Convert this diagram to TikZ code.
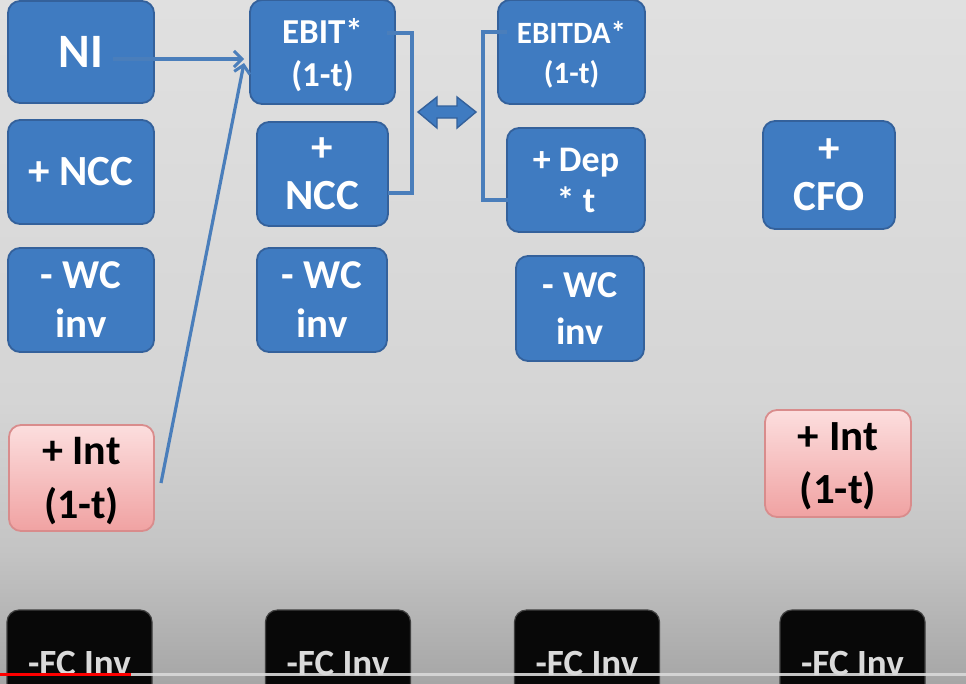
\documentclass[tikz,border=0pt]{standalone}
\usepackage{fontspec}
\setmainfont{Carlito}
\usetikzlibrary{arrows.meta}
\definecolor{boxblue}{HTML}{3F7BC1}
\definecolor{boxborder}{HTML}{34619B}
\definecolor{linkblue}{HTML}{4A7EBB}
\definecolor{pinktop}{HTML}{FCDEDE}
\definecolor{pinkbot}{HTML}{F0A2A2}
\definecolor{pinkborder}{HTML}{D98C8C}
\definecolor{fctext}{HTML}{DADADA}
\definecolor{bgtop}{HTML}{E0E0E0}
\definecolor{bgmid}{HTML}{D5D5D5}
\definecolor{bgmidb}{HTML}{C4C4C4}
\definecolor{bgbot}{HTML}{A6A6A6}
\pgfdeclareverticalshading{bgshade}{100bp}{color(0bp)=(bgbot); color(25bp)=(bgbot); color(34.7bp)=(bgmidb); color(45.7bp)=(bgmid); color(75bp)=(bgtop); color(100bp)=(bgtop)}
\newcommand{\myfs}[2]{\fontsize{#1pt}{#2pt}\selectfont}
\tikzset{
  bbox/.style={draw=boxborder, line width=1.8pt, fill=boxblue, rounded corners=12pt,
    text=white, align=center, inner sep=0pt},
  pbox/.style={draw=pinkborder, line width=1.8pt, top color=pinktop, bottom color=pinkbot,
    rounded corners=12pt, text=black, align=center, inner sep=0pt},
  fcbox/.style={draw=black!75, line width=1.2pt, fill=black!97, rounded corners=12pt,
    text=fctext, inner sep=0pt, minimum width=145pt, minimum height=107pt,
    font=\bfseries\myfs{37}{40}},
  link/.style={draw=linkblue, line width=3.2pt},
  linkarrow/.style={link, -{Straight Barb[length=8pt,width=16pt,line width=3pt]}},
  dblarrow/.style={fill=boxblue, draw=boxborder, line width=1.4pt, line join=miter},
}
\begin{document}
\begin{tikzpicture}[x=1pt,y=-1pt]
\useasboundingbox (0,0) rectangle (966,683);
\shade[shading=bgshade] (0,0) rectangle (966,683);

% column 1
\node[bbox, minimum width=146pt, minimum height=102pt, font=\bfseries\myfs{48}{56}] (NI) at (81,52) {NI};
\node[bbox, minimum width=146pt, minimum height=104pt, font=\bfseries\myfs{43}{50}] (NCCa) at (81,172) {+ NCC};
\node[bbox, minimum width=146pt, minimum height=104pt, font=\bfseries\myfs{41}{49}] (WCa) at (81,300) {- WC\\inv};
\node[pbox, minimum width=145pt, minimum height=106pt, font=\bfseries\myfs{42}{54}, text depth=0pt] (INTa) at (81.5,478) {+ Int\\(1-t)};
\node[fcbox] (FCa) at (79.5,663.5) {-FC Inv};

% column 2
\node[bbox, minimum width=145pt, minimum height=104pt, font=\bfseries\myfs{35}{43}, text depth=0pt] (EBIT) at (322.5,52) {EBIT*\\(1-t)};
\node[bbox, minimum width=131pt, minimum height=104pt, font=\bfseries\myfs{43}{48}] (NCCb) at (322.5,174) {+\\NCC};
\node[bbox, minimum width=130pt, minimum height=104pt, font=\bfseries\myfs{41}{49}] (WCb) at (322,300) {- WC\\inv};
\node[fcbox] (FCb) at (338,663.5) {-FC Inv};

% column 3
\node[bbox, minimum width=147pt, minimum height=104pt, font=\bfseries\myfs{31}{40}, text depth=0pt] (EBITDA) at (571.5,52) {EBITDA*\\(1-t)};
\node[bbox, minimum width=138pt, minimum height=104pt, font=\bfseries\myfs{36}{41}] (DEP) at (576,180) {+ Dep\\* t};
\node[bbox, minimum width=128pt, minimum height=105pt, font=\bfseries\myfs{38}{47}] (WCc) at (580,308.5) {- WC\\inv};
\node[fcbox] (FCc) at (587,663.5) {-FC Inv};

% column 4
\node[bbox, minimum width=132pt, minimum height=108pt, font=\bfseries\myfs{43}{48}] (CFO) at (829,175) {+\\CFO};
\node[pbox, minimum width=146pt, minimum height=107pt, font=\bfseries\myfs{43}{53}, text depth=0pt] (INTb) at (838,463.5) {+ Int\\(1-t)};
\node[fcbox] (FCd) at (852.5,663.5) {-FC Inv};

% connectors
\coordinate (niOut) at (113,59);
\coordinate (ebitInA) at (244,59);
\coordinate (intOut) at (161,483);
\coordinate (ebitInB) at (244,63);
\draw[linkarrow] (niOut) -- (ebitInA);
\draw[linkarrow] (intOut) -- (ebitInB);

\coordinate (bkLa) at (387,33);
\coordinate (bkLb) at (388,193);
\draw[link] (bkLa) -- (412,33) -- (412,193) -- (bkLb);
\coordinate (bkRa) at (507,32);
\coordinate (bkRb) at (508,200);
\draw[link] (bkRa) -- (483,32) -- (483,200) -- (bkRb);

% double arrow
\draw[dblarrow] (418,112) -- (437,97) -- (437,106) -- (457,106) -- (457,97) -- (476,112)
  -- (457,128) -- (457,118) -- (437,118) -- (437,128) -- cycle;

% video progress bar
\fill[gray!30, opacity=0.9] (0,673) rectangle (966,676);
\fill[red] (0,673) rectangle (131,676);
\end{tikzpicture}
\end{document}
